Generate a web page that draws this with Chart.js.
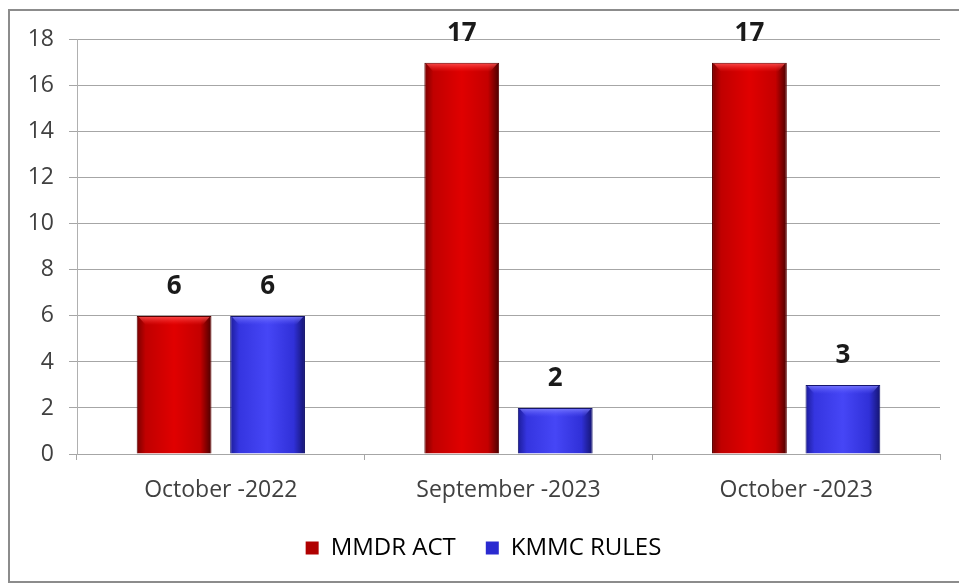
<!DOCTYPE html>
<html>
<head>
<meta charset="utf-8">
<script src="https://cdn.jsdelivr.net/npm/chart.js@4"></script>
<style>
  body { margin: 0; background: #fff; }
  #box {
    position: absolute; left: 8px; top: 9px; width: 955px; height: 570px;
    border: 2px solid #8c8c8c; background: #fff; overflow: hidden;
  }
  #box canvas { display: block; }
</style>
</head>
<body>
<div id="box"><canvas id="bar-chart" width="955" height="570"></canvas></div>
<script>
// chart data
var months = ["October -2022", "September -2023", "October -2023"];
var mmdrAct = [6, 17, 17];
var kmmcRules = [6, 2, 3];
var yTicks = [0, 2, 4, 6, 8, 10, 12, 14, 16, 18];

var redBase = "#d40000";
var blueBase = "#3a3af0";
var fontFam = "'Open Sans', Lato, sans-serif";

// gives each bar a rounded 3d look like the office chart
var shadePlugin = {
  id: "shade",
  beforeDatasetsDraw: function (chart) {
    var ctx = chart.ctx;
    chart.data.datasets.forEach(function (ds, di) {
      var meta = chart.getDatasetMeta(di);
      meta.data.forEach(function (bar) {
        var l = bar.x - bar.width / 2, r = bar.x + bar.width / 2;
        var g = ctx.createLinearGradient(l, 0, r, 0);
        if (di === 0) {
          g.addColorStop(0, "#7a0000");
          g.addColorStop(0.12, "#c00000");
          g.addColorStop(0.5, "#e00000");
          g.addColorStop(0.85, "#c40000");
          g.addColorStop(1, "#4a0000");
        } else {
          g.addColorStop(0, "#1c1c9a");
          g.addColorStop(0.12, "#3535e0");
          g.addColorStop(0.5, "#4646f6");
          g.addColorStop(0.85, "#3030d8");
          g.addColorStop(1, "#141470");
        }
        bar.options.backgroundColor = g;
      });
    });
  },
  afterDatasetsDraw: function (chart) {
    var ctx = chart.ctx;
    ctx.save();
    chart.data.datasets.forEach(function (ds, di) {
      var meta = chart.getDatasetMeta(di);
      meta.data.forEach(function (bar) {
        var l = bar.x - bar.width / 2, w = bar.width;
        var g = ctx.createLinearGradient(0, bar.y, 0, bar.y + 9);
        if (di === 0) {
          g.addColorStop(0, "rgba(255,90,90,0.9)");
          g.addColorStop(1, "rgba(255,40,40,0)");
        } else {
          g.addColorStop(0, "rgba(130,130,255,0.9)");
          g.addColorStop(1, "rgba(90,90,255,0)");
        }
        ctx.fillStyle = g;
        ctx.beginPath();
        ctx.moveTo(l + 2, bar.y + 1);
        ctx.lineTo(l + w - 2, bar.y + 1);
        ctx.lineTo(l + w - 9, bar.y + 9);
        ctx.lineTo(l + 9, bar.y + 9);
        ctx.closePath();
        ctx.fill();
      });
    });
    ctx.restore();
  }
};

// value labels above the bars
var valuePlugin = {
  id: "values",
  afterDatasetsDraw: function (chart) {
    var ctx = chart.ctx;
    ctx.save();
    ctx.font = "bold 26px " + fontFam;
    ctx.fillStyle = "#1a1a1a";
    ctx.textAlign = "center";
    ctx.textBaseline = "middle";
    chart.data.datasets.forEach(function (ds, di) {
      chart.getDatasetMeta(di).data.forEach(function (bar, i) {
        ctx.fillText(ds.data[i], bar.x, bar.y - 29);
      });
    });
    ctx.restore();
  }
};

var config = {
  type: "bar",
  data: {
    labels: months,
    datasets: [
      {
        label: "MMDR ACT",
        data: mmdrAct,
        backgroundColor: function () { return redBase; },
        borderColor: "#5a0000",
        borderWidth: 1,
        categoryPercentage: 0.65,
        barPercentage: 0.8
      },
      {
        label: "KMMC RULES",
        data: kmmcRules,
        backgroundColor: function () { return blueBase; },
        borderColor: "#16166e",
        borderWidth: 1,
        categoryPercentage: 0.65,
        barPercentage: 0.8
      }
    ]
  },
  options: {
    responsive: false,
    animation: false,
    layout: { padding: { left: 17, right: 25, top: 28, bottom: 11 } },
    plugins: {
      tooltip: { enabled: false },
      legend: {
        position: "bottom",
        labels: {
          color: "#333",
          font: { size: 24, family: fontFam },
          boxWidth: 13,
          boxHeight: 13,
          padding: 30,
          generateLabels: function (chart) {
            var fills = ["#b00000", "#2a2ad0"];
            return chart.data.datasets.map(function (ds, i) {
              return {
                text: ds.label, fillStyle: fills[i], strokeStyle: fills[i],
                lineWidth: 0, datasetIndex: i, hidden: false
              };
            });
          }
        }
      }
    },
    scales: {
      x: {
        afterFit: function (axis) { axis.height = 52; },
        grid: { offset: true, drawOnChartArea: false, color: "#a6a6a6", tickLength: 6 },
        border: { color: "#a6a6a6", width: 1 },
        ticks: {
          color: "#404040",
          padding: 17,
          font: { size: 23, family: fontFam }
        }
      },
      y: {
        min: 0,
        max: 18,
        afterFit: function (axis) { axis.width = 50; },
        afterBuildTicks: function (axis) {
          axis.ticks = yTicks.map(function (v) { return { value: v }; });
        },
        grid: { color: "#a6a6a6", tickLength: 8 },
        border: { color: "#b0b0b0", width: 1 },
        ticks: {
          color: "#404040",
          padding: 15,
          font: { size: 23, family: fontFam }
        }
      }
    }
  },
  plugins: [shadePlugin, valuePlugin]
};

var ctx = document.getElementById("bar-chart").getContext("2d");
window.myBar = new Chart(ctx, config);
</script>
</body>
</html>
